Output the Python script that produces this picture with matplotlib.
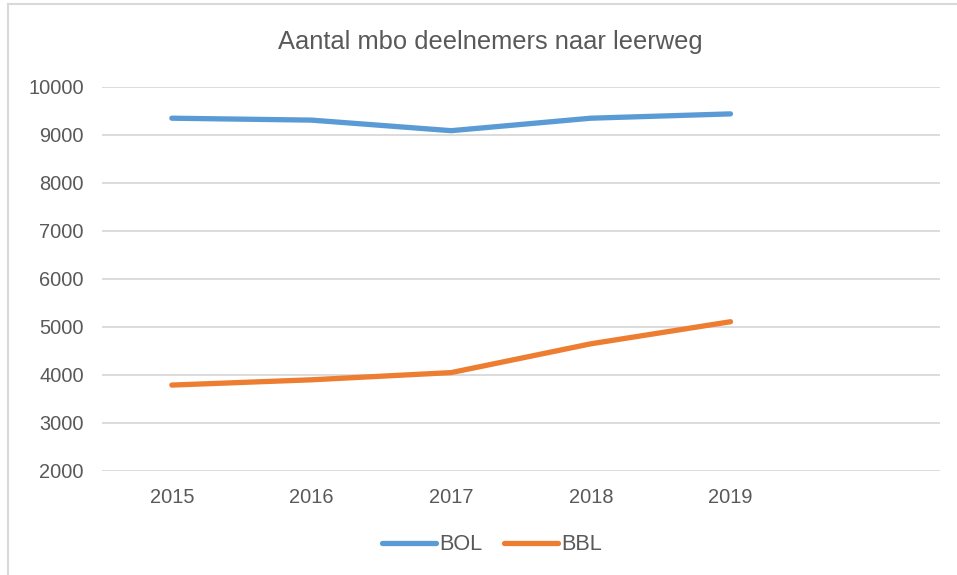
import matplotlib.pyplot as plt
from matplotlib.lines import Line2D

plt.rcParams['font.family'] = ['Liberation Sans', 'DejaVu Sans']

# Data
years = ['2015', '2016', '2017', '2018', '2019']
bol = [9350, 9310, 9090, 9350, 9440]
bbl = [3790, 3900, 4050, 4650, 5110]
y_ticks = [2000, 3000, 4000, 5000, 6000, 7000, 8000, 9000, 10000]

W, H = 957, 575
fig = plt.figure(figsize=(W / 100, H / 100), dpi=100)
ax = fig.add_axes([102 / W, 1 - 471 / H, 838 / W, 384 / H])

x = list(range(len(years)))
text_col = '#595959'
ax.plot(x, bol, color='#5B9BD5', lw=3.8, solid_capstyle='round', label='BOL')
ax.plot(x, bbl, color='#ED7D31', lw=3.8, solid_capstyle='round', label='BBL')

# Excel chart leaves an empty sixth category slot
ax.set_xlim(-0.5, 5.5)
ax.set_ylim(2000, 10000)
ax.set_xticks(x)
ax.set_xticklabels(years)
ax.set_yticks(y_ticks)
ax.tick_params(axis='both', length=0, labelsize=14.4, colors=text_col)
ax.tick_params(axis='x', pad=12)
ax.tick_params(axis='y', pad=13)
ax.grid(axis='y', color='#D9D9D9', lw=1.3)
ax.set_axisbelow(True)
for s in ax.spines.values():
    s.set_visible(False)

fig.text(490 / W, 1 - 42 / H, 'Aantal mbo deelnemers naar leerweg', ha='center', va='center',
         fontsize=18.4, color=text_col)

leg = fig.legend(loc='center', bbox_to_anchor=(492 / W, 1 - 545 / H), ncol=2, frameon=False,
                 fontsize=15.6, handlelength=2.5, handletextpad=0.15, columnspacing=1.0)
for t in leg.get_texts():
    t.set_color(text_col)

# chart area border (only left and top visible)
fig.add_artist(Line2D([8 / W, 8 / W], [0, 1 - 4 / H], transform=fig.transFigure, color='#D9D9D9', lw=1.5))
fig.add_artist(Line2D([8 / W, 1], [1 - 4 / H, 1 - 4 / H], transform=fig.transFigure, color='#D9D9D9', lw=1.5))

fig.savefig('out.png', dpi=100)
